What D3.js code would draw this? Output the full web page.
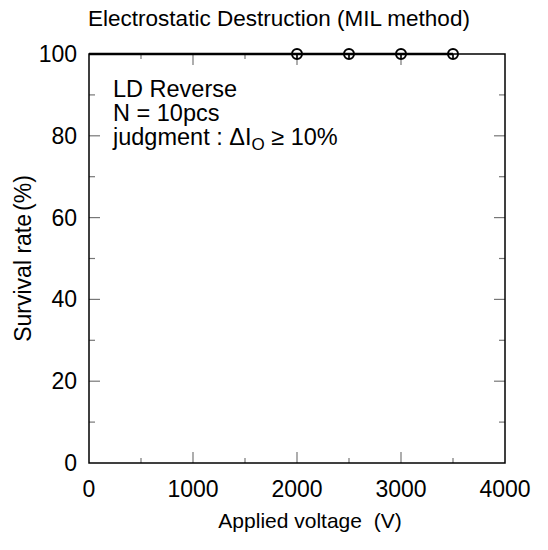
<!DOCTYPE html>
<html>
<head>
<meta charset="utf-8">
<script src="https://cdn.jsdelivr.net/npm/d3@7"></script>
<style>
  body { margin: 0; background: #fff; }
  text { font-family: "Liberation Sans", Arial, sans-serif; fill: #000; }
</style>
</head>
<body>
<script>
// data
const voltages = [2000, 2500, 3000, 3500];
const survival = [100, 100, 100, 100];
const xTicks = [0, 1000, 2000, 3000, 4000];
const xMinorTicks = [500, 1500, 2500, 3500];
const yTicks = [0, 20, 40, 60, 80, 100];
const yMinorTicks = [10, 30, 50, 70, 90];
const noteLines = ["LD Reverse", "N = 10pcs"];

const width = 548, height = 550;
const margin = { top: 54, right: 43, bottom: 87, left: 89 };

const svg = d3.select("body").append("svg")
  .attr("width", width)
  .attr("height", height);

const x = d3.scaleLinear().domain([0, 4000]).range([margin.left, width - margin.right]);
const y = d3.scaleLinear().domain([0, 100]).range([height - margin.bottom, margin.top]);

const tickColor = "#777";

// ticks pointing inward on all four sides
function ticks(vals, len, scale, side) {
  svg.append("g").selectAll("line").data(vals).join("line")
    .attr("stroke", tickColor)
    .attr("stroke-width", 1.2)
    .each(function (d) {
      const s = d3.select(this);
      if (side === "bottom") s.attr("x1", scale(d)).attr("x2", scale(d)).attr("y1", y(0)).attr("y2", y(0) - len);
      if (side === "top") s.attr("x1", scale(d)).attr("x2", scale(d)).attr("y1", y(100)).attr("y2", y(100) + len);
      if (side === "left") s.attr("y1", scale(d)).attr("y2", scale(d)).attr("x1", x(0)).attr("x2", x(0) + len);
      if (side === "right") s.attr("y1", scale(d)).attr("y2", scale(d)).attr("x1", x(4000)).attr("x2", x(4000) - len);
    });
}
ticks(xTicks.slice(1, -1), 11, x, "bottom");
ticks(xMinorTicks, 5, x, "bottom");
ticks(xTicks.slice(1, -1), 11, x, "top");
ticks(xMinorTicks, 5, x, "top");
ticks(yTicks.slice(1, -1), 11, y, "left");
ticks(yMinorTicks, 6, y, "left");
ticks(yTicks.slice(1, -1), 11, y, "right");
ticks(yMinorTicks, 6, y, "right");

// frame
svg.append("rect")
  .attr("x", x(0)).attr("y", y(100))
  .attr("width", x(4000) - x(0)).attr("height", y(0) - y(100))
  .attr("fill", "none").attr("stroke", "#000").attr("stroke-width", 1.5);

// tick labels
svg.append("g").selectAll("text").data(xTicks).join("text")
  .attr("x", d => x(d)).attr("y", y(0) + 34)
  .attr("text-anchor", "middle").attr("font-size", 23)
  .text(d => d);

svg.append("g").selectAll("text").data(yTicks).join("text")
  .attr("x", x(0) - 12).attr("y", d => y(d) + 8)
  .attr("text-anchor", "end").attr("font-size", 23)
  .text(d => d);

// data line (runs from origin side at 100%) and markers
const pts = voltages.map((v, i) => ({ v, s: survival[i] }));
svg.append("path")
  .datum([{ v: 0, s: survival[0] }].concat(pts))
  .attr("fill", "none").attr("stroke", "#000").attr("stroke-width", 2.5)
  .attr("d", d3.line().x(d => x(d.v)).y(d => y(d.s)));

const mk = svg.append("g").selectAll("g").data(pts).join("g")
  .attr("transform", d => `translate(${x(d.v)},${y(d.s)})`);
mk.append("circle").attr("r", 5).attr("fill", "none").attr("stroke", "#000").attr("stroke-width", 2);
mk.append("line").attr("x1", 0).attr("x2", 0).attr("y1", 0).attr("y2", 5)
  .attr("stroke", "#000").attr("stroke-width", 1.5);

// title and axis labels
svg.append("text")
  .attr("x", 279).attr("y", 26)
  .attr("text-anchor", "middle").attr("font-size", 22.5)
  .text("Electrostatic Destruction (MIL method)");

svg.append("text")
  .attr("x", 310).attr("y", 528)
  .attr("text-anchor", "middle").attr("font-size", 21)
  .attr("xml:space", "preserve")
  .text("Applied voltage  (V)");

const yl = svg.append("text")
  .attr("transform", `translate(31,${(y(0) + y(100)) / 2}) rotate(-90)`)
  .attr("text-anchor", "middle").attr("font-size", 23);
yl.append("tspan").text("Survival rate");
yl.append("tspan").attr("dx", 3).text("(%)");

// annotation
const note = svg.append("g").attr("transform", `translate(${x(0) + 24},0)`);
noteLines.forEach((t, i) => {
  note.append("text").attr("y", y(100) + 43 + i * 24).attr("font-size", 23.5).text(t);
});
const j = note.append("text").attr("y", y(100) + 43 + 2 * 24).attr("font-size", 23.5);
j.append("tspan").text("judgment : \u0394I");
j.append("tspan").attr("font-size", 17).attr("dy", 5).text("O");
j.append("tspan").attr("dy", -5).text(" \u2265 10%");
</script>
</body>
</html>
